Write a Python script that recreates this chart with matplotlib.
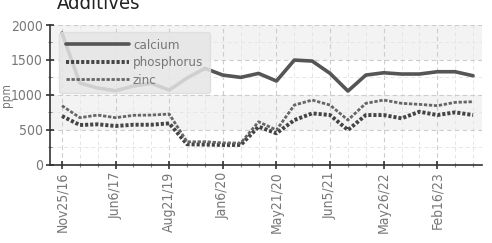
import matplotlib
matplotlib.use("Agg")
import matplotlib.pyplot as plt
from matplotlib.ticker import MultipleLocator, FixedLocator

plt.rcParams['font.family'] = ['DejaVu Sans']
plt.rcParams['font.stretch'] = 'condensed'

title = "Additives"
ylabel = "ppm"
tick_labels = ["Nov25/16", "Jun6/17", "Aug21/19", "Jan6/20", "May21/20",
               "Jun5/21", "May26/22", "Feb16/23"]
tick_every = 3

calcium = [1884, 1168, 1096, 1058, 1125, 1163, 1067, 1240, 1378, 1282, 1249, 1306,
           1197, 1497, 1483, 1306, 1053, 1282, 1315, 1297, 1297, 1330, 1330, 1272]
phosphorus = [695, 566, 576, 552, 570, 570, 590, 290, 285, 280, 280, 542,
              447, 637, 733, 709, 494, 709, 709, 662, 757, 709, 748, 709]
zinc = [843, 671, 709, 671, 705, 709, 723, 325, 327, 310, 308, 613,
        494, 852, 924, 852, 637, 877, 924, 877, 862, 843, 891, 900]

x = list(range(len(calcium)))

fig = plt.figure(figsize=(4.92, 2.43), dpi=100)
ax = fig.add_axes([50/492, 1-164.5/243, 432/492, 139.5/243])

for lo in (500, 1500):
    ax.axhspan(lo, lo + 500, color='#f3f3f3', zorder=0, lw=0)

ax.plot(x, calcium, color='#555555', lw=2.6, solid_capstyle='round', label='calcium', zorder=3)
ax.plot(x, phosphorus, color='#444444', lw=2.8, ls=(0, (0.8, 0.5)), label='phosphorus', zorder=3)
ax.plot(x, zinc, color='#666666', lw=2.0, ls=(0, (1.2, 0.6)), label='zinc', zorder=3)

ax.set_ylim(0, 2000)
ax.set_xlim(-0.67, len(x) - 0.5)
ax.yaxis.set_major_locator(MultipleLocator(500))
ax.yaxis.set_minor_locator(MultipleLocator(250))
ax.xaxis.set_major_locator(FixedLocator(x[::tick_every]))
ax.xaxis.set_minor_locator(FixedLocator(x))
ax.set_xticklabels(tick_labels, rotation=90)

ax.grid(which='major', color='#cccccc', ls=(0, (4, 3)), lw=0.8, zorder=1)
ax.grid(which='minor', color='#e6e6e6', ls=(0, (4, 3)), lw=0.7, zorder=1)
ax.set_axisbelow(True)

for s in ('top', 'right'):
    ax.spines[s].set_visible(False)
for s in ('left', 'bottom'):
    ax.spines[s].set_color('#333333')
    ax.spines[s].set_linewidth(1.2)

ax.tick_params(which='major', direction='inout', length=6, width=1.2, color='#333333',
               labelcolor='#777777', labelsize=10, pad=2)
ax.tick_params(which='minor', direction='inout', length=3, width=0.8, color='#888888')
ax.set_facecolor('white')

ax.set_ylabel(ylabel, color='#777777', fontsize=8.5)
ax.yaxis.set_label_coords(-0.085, 0.5)

leg = ax.legend(loc='upper left', bbox_to_anchor=(0.021, 0.95), borderaxespad=0,
                frameon=True, fancybox=True, facecolor='#e6e6e6', edgecolor='#dddddd',
                framealpha=0.85, handlelength=4.8, fontsize=9.5, labelspacing=0.35,
                handletextpad=0.3, borderpad=0.5)
for t in leg.get_texts():
    t.set_color('#777777')
leg.set_zorder(5)

fig.text(57/492, 1 - 9/243, title, fontsize=14.5, color='#222222', va='baseline', ha='left')

fig.savefig('out.png', dpi=100)
